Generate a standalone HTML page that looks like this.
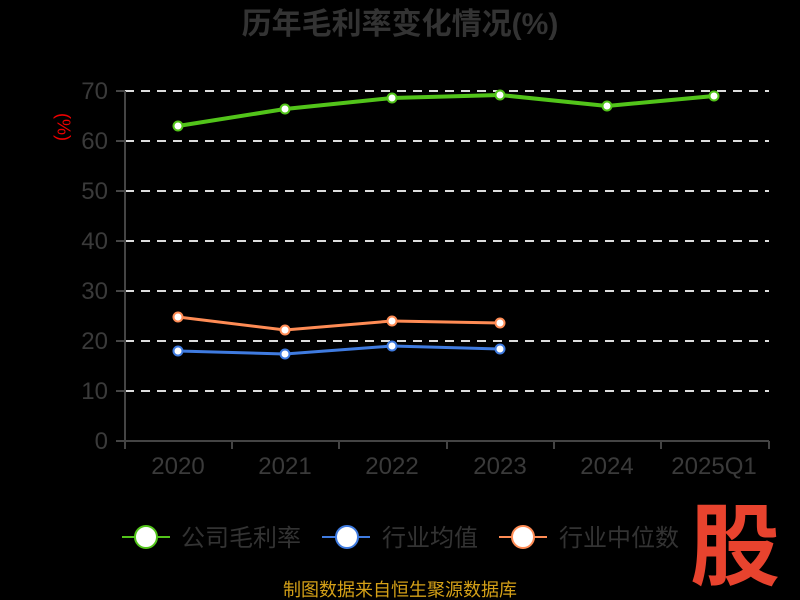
<!DOCTYPE html>
<html><head><meta charset="utf-8"><style>
html,body{margin:0;padding:0;background:#000;width:800px;height:600px;overflow:hidden}
svg{display:block}
text{font-family:"Liberation Sans","Noto Sans CJK SC",sans-serif}
</style></head><body>
<svg width="800" height="600" viewBox="0 0 800 600">
<text x="400" y="34" text-anchor="middle" font-size="30" font-weight="bold" fill="#333">历年毛利率变化情况(%)</text>
<text x="62" y="127" font-size="18" fill="#e00" transform="rotate(90 62 127)" text-anchor="middle" dominant-baseline="middle">(%)</text>
<g stroke="#ddd" stroke-width="2" stroke-dasharray="9,7">
<line x1="125" y1="91" x2="769" y2="91"/><line x1="125" y1="141" x2="769" y2="141"/>
<line x1="125" y1="191" x2="769" y2="191"/><line x1="125" y1="241" x2="769" y2="241"/>
<line x1="125" y1="291" x2="769" y2="291"/><line x1="125" y1="341" x2="769" y2="341"/>
<line x1="125" y1="391" x2="769" y2="391"/>
</g>
<g stroke="#444" stroke-width="2" fill="none">
<line x1="125" y1="91" x2="125" y2="441"/>
<line x1="116" y1="441" x2="769" y2="441"/>
<line x1="116" y1="91" x2="125" y2="91"/><line x1="116" y1="141" x2="125" y2="141"/><line x1="116" y1="191" x2="125" y2="191"/><line x1="116" y1="241" x2="125" y2="241"/><line x1="116" y1="291" x2="125" y2="291"/><line x1="116" y1="341" x2="125" y2="341"/><line x1="116" y1="391" x2="125" y2="391"/>
<line x1="125" y1="441" x2="125" y2="449"/><line x1="232" y1="441" x2="232" y2="449"/><line x1="339" y1="441" x2="339" y2="449"/><line x1="447" y1="441" x2="447" y2="449"/><line x1="554" y1="441" x2="554" y2="449"/><line x1="661" y1="441" x2="661" y2="449"/><line x1="769" y1="441" x2="769" y2="449"/>
</g>
<g font-size="24" fill="#3a3a3a" text-anchor="end">
<text x="108" y="99">70</text><text x="108" y="149">60</text><text x="108" y="199">50</text><text x="108" y="249">40</text><text x="108" y="299">30</text><text x="108" y="349">20</text><text x="108" y="399">10</text><text x="108" y="449">0</text>
</g>
<g font-size="24" fill="#3a3a3a" text-anchor="middle">
<text x="178" y="474">2020</text><text x="285" y="474">2021</text><text x="392" y="474">2022</text><text x="500" y="474">2023</text><text x="607" y="474">2024</text><text x="714" y="474">2025Q1</text>
</g>
<polyline points="178,126 285,109 392,98 500,95 607,106 714,96" fill="none" stroke="#52c41a" stroke-width="4"/>
<polyline points="178,317 285,330 392,321 500,323" fill="none" stroke="#ff8c55" stroke-width="3"/>
<polyline points="178,351 285,354 392,346 500,349" fill="none" stroke="#3f7be0" stroke-width="3"/>
<g fill="#fff" stroke-width="2">
<g stroke="#52c41a"><circle cx="178" cy="126" r="4.5"/><circle cx="285" cy="109" r="4.5"/><circle cx="392" cy="98" r="4.5"/><circle cx="500" cy="95" r="4.5"/><circle cx="607" cy="106" r="4.5"/><circle cx="714" cy="96" r="4.5"/></g>
<g stroke="#ff8c55"><circle cx="178" cy="317" r="4.5"/><circle cx="285" cy="330" r="4.5"/><circle cx="392" cy="321" r="4.5"/><circle cx="500" cy="323" r="4.5"/></g>
<g stroke="#3f7be0"><circle cx="178" cy="351" r="4.5"/><circle cx="285" cy="354" r="4.5"/><circle cx="392" cy="346" r="4.5"/><circle cx="500" cy="349" r="4.5"/></g>
</g>
<g stroke-width="2">
<line x1="122" y1="537" x2="170" y2="537" stroke="#52c41a"/><ellipse cx="146" cy="537" rx="11" ry="11" fill="#fff" stroke="#52c41a"/>
<line x1="322" y1="537" x2="370" y2="537" stroke="#3f7be0"/><ellipse cx="347" cy="537" rx="11" ry="11" fill="#fff" stroke="#3f7be0"/>
<line x1="499" y1="537" x2="547" y2="537" stroke="#ff8c55"/><ellipse cx="523" cy="537" rx="11" ry="11" fill="#fff" stroke="#ff8c55"/>
</g>
<g font-size="24" fill="#333">
<text x="181" y="546">公司毛利率</text><text x="382" y="546">行业均值</text><text x="559" y="546">行业中位数</text>
</g>
<text x="735" y="578" text-anchor="middle" font-size="90" font-weight="bold" fill="#e8432e">股</text>
<text x="400" y="596" text-anchor="middle" font-size="18" fill="#d4a017">制图数据来自恒生聚源数据库</text>
</svg>
</body></html>
